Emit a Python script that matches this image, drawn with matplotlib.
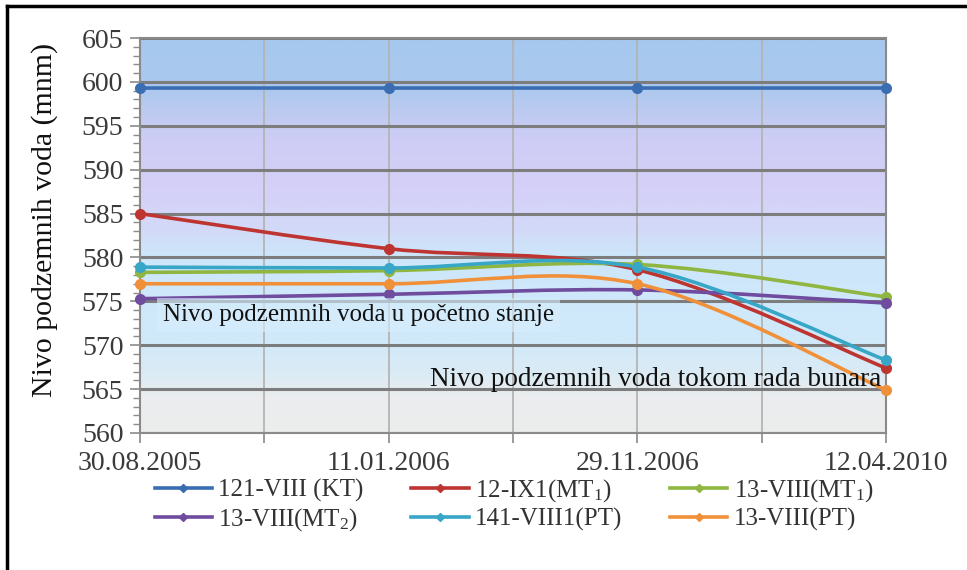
import numpy as np
import matplotlib
matplotlib.use("Agg")
import matplotlib.pyplot as plt
from matplotlib.path import Path
from matplotlib.patches import PathPatch
from matplotlib.lines import Line2D
from matplotlib.colors import LinearSegmentedColormap

plt.rcParams['font.family'] = ['Liberation Serif', 'DejaVu Serif']
plt.rcParams['mathtext.fontset'] = 'custom'
plt.rcParams['mathtext.rm'] = 'Liberation Serif'
plt.rcParams['mathtext.it'] = 'Liberation Serif:italic'

# Measurement dates (category axis)
dates = ["30.08.2005", "11.01.2006", "29.11.2006", "12.04.2010"]

# Groundwater level per well (m a.s.l.)
s_121_viii_kt = [599.3, 599.3, 599.3, 599.3]
s_12_ix1_mt1 = [585.0, 581.0, 578.6, 567.4]
s_13_viii_mt1 = [578.3, 578.5, 579.2, 575.5]
s_13_viii_mt2 = [575.3, 575.8, 576.3, 574.8]
s_141_viii1_pt = [578.9, 578.8, 578.9, 568.3]
s_13_viii_pt = [577.0, 577.0, 577.0, 564.9]

series_labels = ["121-VIII (KT)", r"12-IX1(MT$_1$)", r"13-VIII(MT$_1$)",
                 r"13-VIII(MT$_2$)", "141-VIII1(PT)", "13-VIII(PT)"]
series_values = [s_121_viii_kt, s_12_ix1_mt1, s_13_viii_mt1,
                 s_13_viii_mt2, s_141_viii1_pt, s_13_viii_pt]
series_colors = ["#3b6db3", "#bd3430", "#8fb640", "#6f4c9e", "#38a6c6", "#f0913a"]

fig = plt.figure(figsize=(9.67, 5.70), dpi=100)
ax = fig.add_axes([140 / 967, 1 - 433 / 570, 746 / 967, 395 / 570])

ymin, ymax = 560, 605
ax.set_xlim(0, len(dates) - 1)
ax.set_ylim(ymin, ymax)

# Plot-area background: vertical colour gradient
stops = [(0.00, "#ececec"), (0.09, "#ebedee"), (0.15, "#dbebf5"),
         (0.24, "#d0e9fa"), (0.45, "#cde6fa"), (0.52, "#d3d9f8"),
         (0.60, "#d5d1f8"), (0.74, "#cfcdf5"), (0.82, "#bccaf0"),
         (0.88, "#aac8ee"), (1.00, "#a7c8ee")]
cmap = LinearSegmentedColormap.from_list("bg", stops)
grad = np.linspace(0, 1, 256).reshape(-1, 1)
ax.imshow(grad, cmap=cmap, aspect="auto", origin="lower",
          extent=[0, len(dates) - 1, ymin, ymax], zorder=0)

# Grid
for xv in np.arange(0, len(dates) - 0.5 + 0.01, 0.5):
    ax.axvline(xv, color="#b4b4b4", lw=1.3, zorder=1)
for yv in range(ymin, ymax + 1, 5):
    ax.axhline(yv, color="#7d7d7d", lw=2.2, zorder=1)

for sp in ax.spines.values():
    sp.set_color("#8a8a8a")
    sp.set_linewidth(1.5)


def smooth_path(xs, ys):
    """Cubic Bezier path through the points (Catmull-Rom style smoothing)."""
    pts = np.column_stack([xs, ys]).astype(float)
    n = len(pts)
    verts = [pts[0]]
    codes = [Path.MOVETO]
    for i in range(n - 1):
        p0 = pts[i - 1] if i > 0 else pts[i]
        p1 = pts[i]
        p2 = pts[i + 1]
        p3 = pts[i + 2] if i + 2 < n else pts[i + 1]
        c1 = p1 + (p2 - p0) / 6.0
        c2 = p2 - (p3 - p1) / 6.0
        verts += [c1, c2, p2]
        codes += [Path.CURVE4] * 3
    return Path(verts, codes)


xs = np.arange(len(dates))
handles = []
for vals, col, lab in zip(series_values, series_colors, series_labels):
    patch = PathPatch(smooth_path(xs, vals), facecolor="none", edgecolor=col,
                      lw=2.6, zorder=3, capstyle="round")
    ax.add_patch(patch)
    ax.plot(xs, vals, ls="none", marker="o", ms=7, color=col, zorder=4,
            clip_on=False)
    handles.append(Line2D([0], [0], color=col, lw=2.6, marker="D", ms=4))

# Axes ticks
ax.set_xticks(xs)
ax.set_xticklabels(dates)
ax.set_xticks(np.arange(0.5, len(dates) - 1, 1.0), minor=True)
ax.set_yticks(range(ymin, ymax + 1, 5))
ax.set_yticks(range(ymin, ymax + 1, 1), minor=True)
ax.tick_params(axis="both", which="both", color="#8a8a8a", direction="out")
ax.tick_params(axis="y", which="major", length=7, width=1.2, labelsize=20,
               labelcolor="#3a3a3a", pad=5)
ax.tick_params(axis="y", which="minor", length=5, width=1.0)
ax.tick_params(axis="x", which="both", length=7, width=1.2, labelsize=20,
               labelcolor="#3a3a3a", pad=6)

fig.text(45 / 967, 1 - 220 / 570, "Nivo podzemnih voda (mnm)", rotation=90,
         ha="center", va="center", fontsize=21.5, color="#111111")

# Annotations
ax.text(0.092, 573.45, "Nivo podzemnih voda u početno stanje", fontsize=18,
        ha="left", va="center", color="#111111", zorder=5,
        bbox=dict(boxstyle="square,pad=0.25", fc="#d6eefc", ec="none", alpha=0.6))
ax.text(1.166, 566.1, "Nivo podzemnih voda tokom rada bunara", fontsize=19.5,
        ha="left", va="center", color="#111111", zorder=5)

# Legend laid out row by row (3 columns)
order = [0, 3, 1, 4, 2, 5]
leg = fig.legend([handles[i] for i in order], [series_labels[i] for i in order],
                 loc="center", bbox_to_anchor=(514 / 967, 1 - 505 / 570), ncol=3,
                 frameon=False, fontsize=18, handlelength=2.3,
                 handletextpad=0.25, columnspacing=1.9, labelspacing=0.18,
                 borderpad=0.2)
for t in leg.get_texts():
    t.set_color("#333333")

# Figure frame (left and top edges)
fig.add_artist(Line2D([7 / 967, 7 / 967], [0, 1 - 6 / 570], color="black",
                      lw=2.5, transform=fig.transFigure))
fig.add_artist(Line2D([7 / 967, 1], [1 - 6 / 570, 1 - 6 / 570], color="black",
                      lw=2.5, transform=fig.transFigure))

fig.savefig("out.png", dpi=100, facecolor="white")
